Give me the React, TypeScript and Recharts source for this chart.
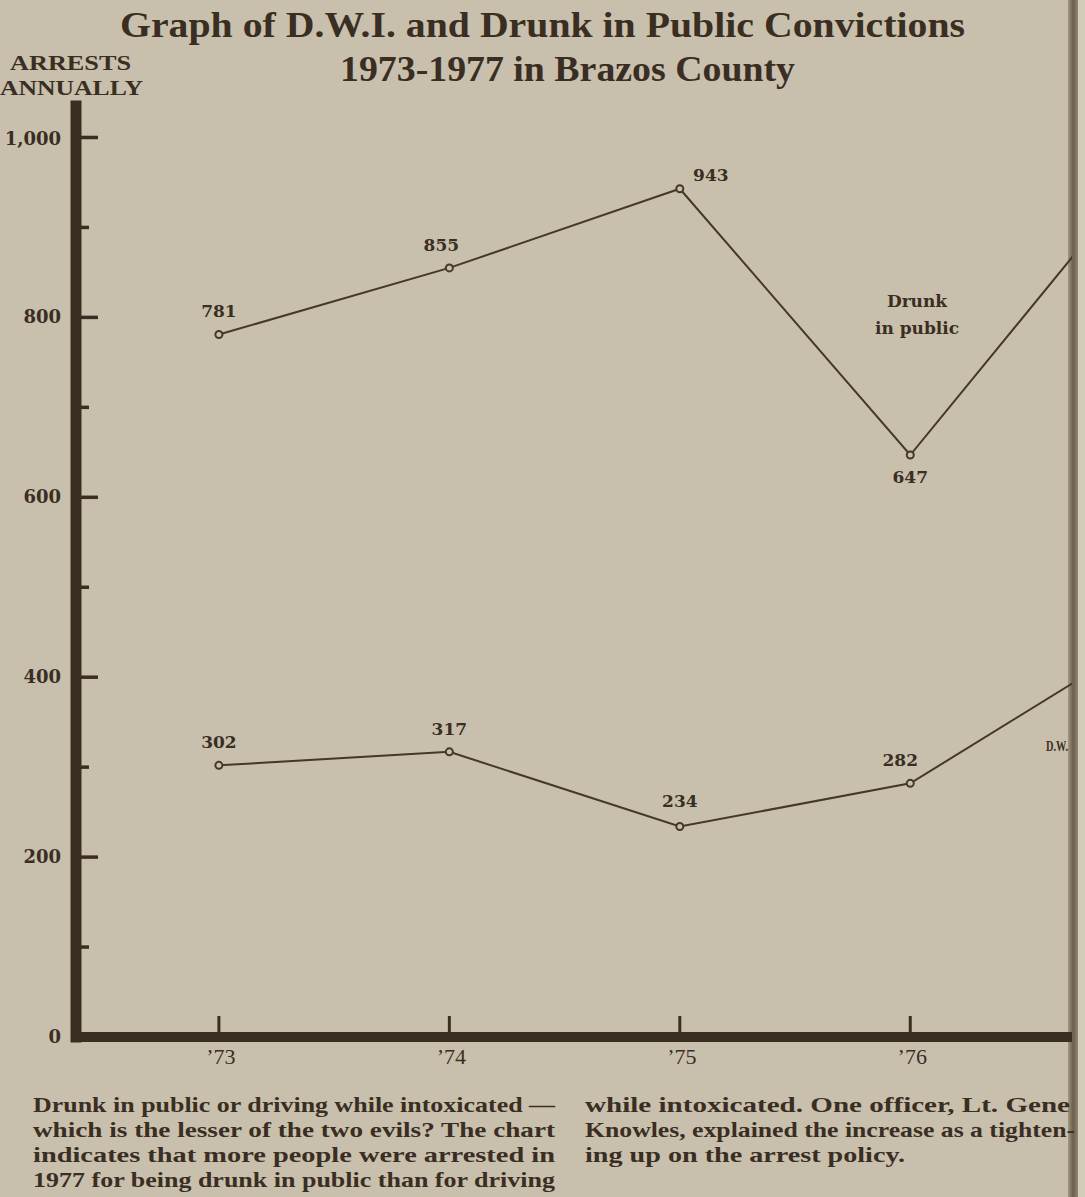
import React from 'react';
import { LineChart, Line, XAxis, YAxis, LabelList } from 'recharts';

// ---- data ----
const years = [1973, 1974, 1975, 1976, 1977];
const visibleYearTicks = [1973, 1974, 1975, 1976];
const yearLabels = ['\u201973', '\u201974', '\u201975', '\u201976', '\u201977'];
const drunkInPublic = [781, 855, 943, 647, 960];
const dwi = [302, 317, 234, 282, 440];
const yTicks = [0, 100, 200, 300, 400, 500, 600, 700, 800, 900, 1000];

const data = years.map((y, i) => ({ year: y, drunk: drunkInPublic[i], dwi: dwi[i] }));

const BG = '#c8c0ad';
const INK = '#3a2e23';
const LINE = '#45372a';

const YTick = (props: any) => {
  const { x, y, payload } = props;
  const v = payload.value;
  const major = v % 200 === 0;
  const label = v === 1000 ? '1,000' : String(v);
  return (
    <g>
      {v !== 0 && (
        <line x1={x + 4} x2={x + (major ? 22 : 13)} y1={y} y2={y} stroke={INK} strokeWidth={3.5} />
      )}
      {major && (
        <text x={x - 15} y={y + (v === 1000 ? 2 : 0)} dy={6} textAnchor="end"
          fontFamily="DejaVu Serif" fontWeight={700} fontSize={18} fill={INK}>{label}</text>
      )}
    </g>
  );
};

const XTick = (props: any) => {
  const { x, y, payload } = props;
  const idx = years.indexOf(payload.value);
  return (
    <g>
      <line x1={x} x2={x} y1={y - 4} y2={y - 21} stroke={INK} strokeWidth={3} />
      <text x={x + 2} y={y + 27} textAnchor="middle" fontFamily="Liberation Serif"
        fontSize={22} fill={INK}>{yearLabels[idx]}</text>
    </g>
  );
};

const makeLabel = (series: 'drunk' | 'dwi') => (props: any) => {
  const { x, y, value, index } = props;
  if (index >= visibleYearTicks.length) return null;
  let dx = 0;
  let dy = -17;
  if (series === 'drunk') {
    if (index === 1) dx = -8;
    if (index === 2) { dx = 31; dy = -8; }
    if (index === 3) { dy = 28; }
  } else {
    if (index === 3) { dx = -10; }
    if (index === 2) { dy = -20; }
  }
  return (
    <text x={x + dx} y={y + dy} textAnchor="middle" fontFamily="DejaVu Serif"
      fontWeight={700} fontSize={17} fill={INK}>{value}</text>
  );
};

const Dot = (props: any) => {
  const { cx, cy } = props;
  return <circle cx={cx} cy={cy} r={3.5} fill={BG} stroke={LINE} strokeWidth={2} />;
};

export default function App() {
  return (
    <div style={{ position: 'fixed', left: 0, top: 0, width: 1085, height: 1197, background: BG, overflow: 'hidden' }}>
      <div style={{ position: 'absolute', left: 1068, top: 0, width: 10, height: 1197,
        background: 'linear-gradient(to right, #a39884, #6a5e4c 50%, #8f8470)' }} />
      <div style={{ position: 'absolute', left: 1078, top: 0, width: 7, height: 1197, background: '#d3ccbb' }} />
      <div style={{ position: 'absolute', left: 0, top: 0, width: 1072, height: 1197, overflow: 'hidden' }}>
        <LineChart width={1289} height={1197} data={data}
          margin={{ top: 106, right: 10, bottom: 100, left: 0 }}>
          <XAxis dataKey="year" type="number" domain={[1972.38, 1977.6]} ticks={visibleYearTicks}
            height={60} tickSize={0} tickMargin={0} tickLine={false}
            axisLine={{ stroke: INK, strokeWidth: 10, strokeLinecap: 'square' }}
            tick={<XTick />} interval={0} allowDataOverflow />
          <YAxis type="number" domain={[0, 1035]} ticks={yTicks} width={76}
            tickSize={0} tickMargin={0} tickLine={false} interval={0}
            axisLine={{ stroke: INK, strokeWidth: 11, strokeLinecap: 'square' }}
            tick={<YTick />} allowDataOverflow />
          <Line dataKey="drunk" type="linear" stroke={LINE} strokeWidth={2}
            dot={<Dot />} isAnimationActive={false}>
            <LabelList dataKey="drunk" content={makeLabel('drunk')} />
          </Line>
          <Line dataKey="dwi" type="linear" stroke={LINE} strokeWidth={2}
            dot={<Dot />} isAnimationActive={false}>
            <LabelList dataKey="dwi" content={makeLabel('dwi')} />
          </Line>
        </LineChart>
      </div>
      <svg width={1085} height={1197} style={{ position: 'absolute', left: 0, top: 0, pointerEvents: 'none' }}>
        <g fill={INK} fontFamily="Liberation Serif" fontWeight={700}>
          <text x={120} y={37} fontSize={36} textLength={845} lengthAdjust="spacingAndGlyphs">Graph of D.W.I. and Drunk in  Public Convictions</text>
          <text x={340} y={81} fontSize={36} textLength={455} lengthAdjust="spacingAndGlyphs">1973-1977 in Brazos County</text>
          <text x={10} y={70} fontSize={22} textLength={121} lengthAdjust="spacingAndGlyphs">ARRESTS</text>
          <text x={0} y={95} fontSize={22} textLength={143} lengthAdjust="spacingAndGlyphs">ANNUALLY</text>
        </g>
        <g fill={INK} fontFamily="DejaVu Serif" fontWeight={700} fontSize={17} textAnchor="middle">
          <text x={917} y={307}>Drunk</text>
          <text x={917} y={334}>in public</text>
        </g>
        <text x={1046} y={751} fill={INK} fontFamily="Liberation Serif" fontWeight={700} fontSize={15} textLength={22} lengthAdjust="spacingAndGlyphs">D.W.</text>
        <g fill={INK} fontFamily="Liberation Serif" fontWeight={700} fontSize={22}>
          <text x={33} y={1112} textLength={522} lengthAdjust="spacingAndGlyphs">Drunk in public or driving while intoxicated —</text>
          <text x={33} y={1137} textLength={522} lengthAdjust="spacingAndGlyphs">which is the lesser of the two evils? The chart</text>
          <text x={33} y={1162} textLength={522} lengthAdjust="spacingAndGlyphs">indicates that more people were arrested in</text>
          <text x={33} y={1187} textLength={522} lengthAdjust="spacingAndGlyphs">1977 for being drunk in public than for driving</text>
          <text x={585} y={1112} textLength={485} lengthAdjust="spacingAndGlyphs">while intoxicated. One officer, Lt. Gene</text>
          <text x={585} y={1137} textLength={490} lengthAdjust="spacingAndGlyphs">Knowles, explained the increase as a tighten-</text>
          <text x={585} y={1162} textLength={320} lengthAdjust="spacingAndGlyphs">ing up on the arrest policy.</text>
        </g>
      </svg>
    </div>
  );
}
